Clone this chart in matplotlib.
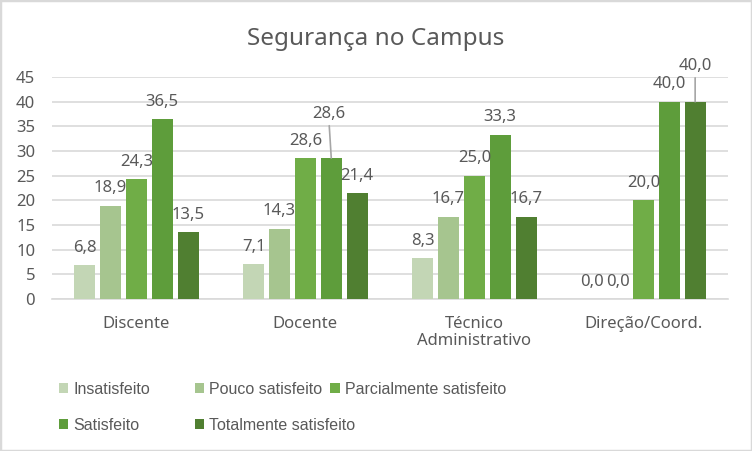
import numpy as np
import matplotlib.pyplot as plt
from matplotlib import font_manager
from matplotlib.patches import Rectangle, Patch

categories = ['Discente', 'Docente', 'Técnico\nAdministrativo', 'Direção/Coord.']
series = ['Insatisfeito', 'Pouco satisfeito', 'Parcialmente satisfeito',
          'Satisfeito', 'Totalmente satisfeito']
insatisfeito = [6.8, 7.1, 8.3, 0.0]
pouco = [18.9, 14.3, 16.7, 0.0]
parcial = [24.3, 28.6, 25.0, 20.0]
satisfeito = [36.5, 28.6, 33.3, 40.0]
totalmente = [13.5, 21.4, 16.7, 40.0]

colors = ['#C3D6B5', '#A6C58F', '#70AD47', '#5E9D3B', '#507F31']
txt = '#595959'
grid_c = '#D9D9D9'

names = {f.name for f in font_manager.fontManager.ttflist}
base_font = 'Noto Sans' if 'Noto Sans' in names else 'DejaVu Sans'
leg_font = 'Liberation Sans Narrow' if 'Liberation Sans Narrow' in names else 'Liberation Sans'
plt.rcParams['font.family'] = [base_font, 'DejaVu Sans']

fig = plt.figure(figsize=(7.52, 4.51), dpi=100)
fig.patches.append(Rectangle((0, 0), 1, 1, transform=fig.transFigure, fill=False,
                             edgecolor=grid_c, linewidth=2.5, zorder=10))
ax = fig.add_axes([0.069, 0.337, 0.899, 0.492])

values = [insatisfeito, pouco, parcial, satisfeito, totalmente]
x = np.arange(len(categories))
width = 0.124
step = 0.153
bars = []
for i, vals in enumerate(values):
    b = ax.bar(x + (i - 2) * step, vals, width, color=colors[i], label=series[i], zorder=3)
    bars.append(b)

# data labels (leader lines where Excel moved the label)
moved = {(3, 1): (-2, 32), (4, 3): (0, 26)}
for i, b in enumerate(bars):
    for j, rect in enumerate(b):
        v = values[i][j]
        cx = rect.get_x() + rect.get_width() / 2
        lab = f'{v:.1f}'.replace('.', ',')
        if (i, j) in moved:
            dx, dy = moved[(i, j)]
            ax.annotate(lab, xy=(cx, v), xytext=(dx, dy), textcoords='offset points',
                        ha='center', va='center', fontsize=12, color=txt, zorder=5,
                        arrowprops=dict(arrowstyle='-', color='#A6A6A6', lw=1.2,
                                        shrinkA=1, shrinkB=0))
        else:
            ax.annotate(lab, xy=(cx, v), xytext=(0, 12.5), textcoords='offset points',
                        ha='center', va='center', fontsize=12, color=txt, zorder=5)

ax.set_xlim(-0.5, 3.5)
ax.set_ylim(0, 45)
ax.set_yticks(np.arange(0, 46, 5))
ax.set_xticks(x)
ax.set_xticklabels(categories, linespacing=1.15)
ax.tick_params(axis='both', length=0, labelsize=12, colors=txt)
ax.tick_params(axis='x', pad=12)
ax.tick_params(axis='y', pad=12)
ax.grid(axis='y', color=grid_c, linewidth=1.2, zorder=0)
for s in ['top', 'right', 'left']:
    ax.spines[s].set_visible(False)
ax.spines['bottom'].set_color(grid_c)
ax.spines['bottom'].set_linewidth(1.2)

fig.text(0.5, 0.913, 'Segurança no Campus', ha='center', va='center',
         fontsize=17.5, color=txt)

# legend in Excel row-major order, three fixed columns
col_x = [0.078, 0.259, 0.439]
for c in range(3):
    idx = [k for k in range(len(series)) if k % 3 == c]
    handles = [Patch(facecolor=colors[k], edgecolor='none') for k in idx]
    leg = fig.legend(handles, [series[k] for k in idx], loc='upper left',
                     bbox_to_anchor=(col_x[c], 0.153), frameon=False,
                     handlelength=0.6, handleheight=0.6, handletextpad=0.3,
                     labelspacing=1.3, borderpad=0, borderaxespad=0,
                     prop={'family': leg_font, 'size': 11.5})
    for t in leg.get_texts():
        t.set_color(txt)

fig.savefig('out.png', dpi=100, facecolor='white')
